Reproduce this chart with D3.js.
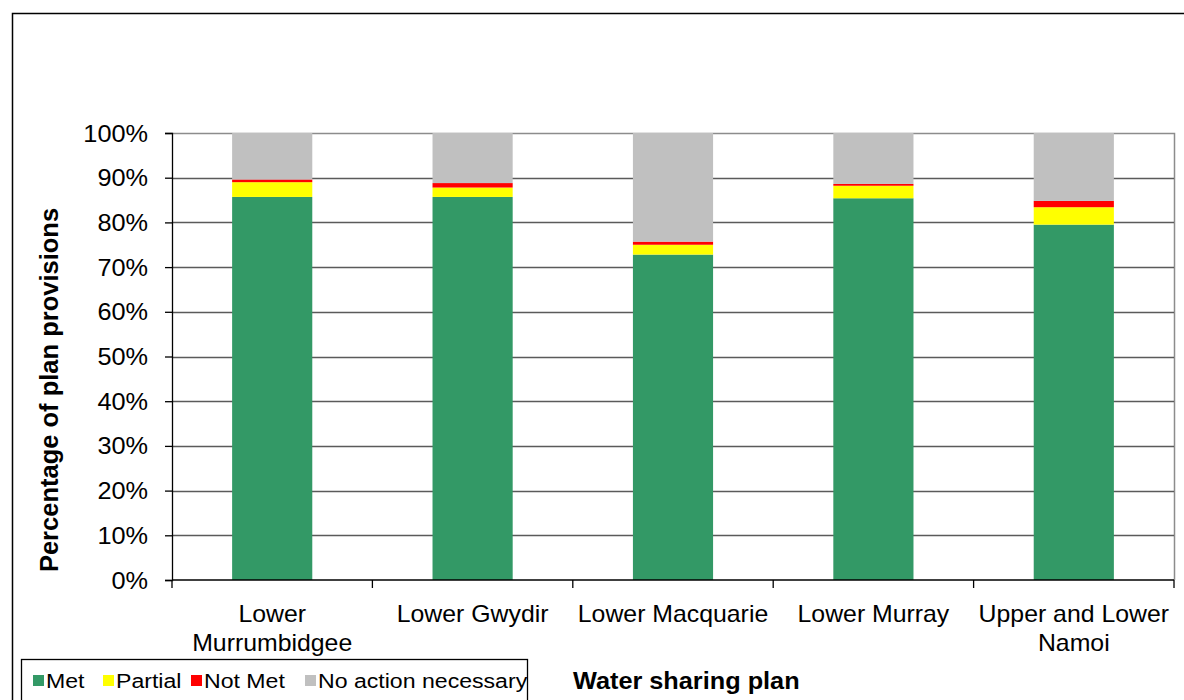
<!DOCTYPE html>
<html>
<head>
<meta charset="utf-8">
<script src="https://cdn.jsdelivr.net/npm/d3@7"></script>
<style>
  html, body { margin: 0; padding: 0; background: #fff; }
  svg { display: block; font-family: "Liberation Sans", Arial, sans-serif; }
</style>
</head>
<body>
<svg id="chart" width="1184" height="700"></svg>
<script>
// Water sharing plans and share of plan provisions by status (%)
const plans = ["Lower Murrumbidgee", "Lower Gwydir", "Lower Macquarie", "Lower Murray", "Upper and Lower Namoi"];
const planLines = [["Lower", "Murrumbidgee"], ["Lower Gwydir"], ["Lower Macquarie"], ["Lower Murray"], ["Upper and Lower", "Namoi"]];
const met = [85.7, 85.7, 72.8, 85.4, 79.5];
const partial = [3.3, 2.1, 2.2, 2.8, 3.9];
const notMet = [0.6, 1.0, 0.7, 0.4, 1.4];
const noAction = [10.4, 11.2, 24.3, 11.4, 15.2];
const seriesNames = ["Met", "Partial", "Not Met", "No action necessary"];
const seriesColors = ["#339966", "#ffff00", "#ff0000", "#c0c0c0"];
const yTicks = [0, 10, 20, 30, 40, 50, 60, 70, 80, 90, 100];

const svg = d3.select("#chart");
const plot = { left: 172, right: 1174, top: 133, bottom: 580 };
const FONT = "'Liberation Sans', Arial, sans-serif";

// outer chart border
svg.append("rect").attr("x", 12.5).attr("y", 13.5).attr("width", 1180).attr("height", 700)
  .attr("fill", "none").attr("stroke", "#000").attr("stroke-width", 1.5);

const x = d3.scaleBand().domain(plans).range([plot.left, plot.right]).paddingInner(0.6).paddingOuter(0.3);
const xBound = d3.scaleBand().domain(plans).range([plot.left, plot.right]);
const y = d3.scaleLinear().domain([0, 100]).range([plot.bottom, plot.top]);

// plot area right/top border (gray)
svg.append("path")
  .attr("d", `M${plot.left},${plot.top + 0.5}H${plot.right + 0.5}V${plot.bottom}`)
  .attr("fill", "none").attr("stroke", "#8c8c8c").attr("stroke-width", 1.5);

// gridlines
svg.append("g").selectAll("line").data(yTicks.filter(t => t > 0 && t < 100)).join("line")
  .attr("x1", plot.left).attr("x2", plot.right)
  .attr("y1", d => Math.round(y(d)) + 0.5).attr("y2", d => Math.round(y(d)) + 0.5)
  .attr("stroke", "#5a5a5a").attr("stroke-width", 1.3);

// stacked bars
const rows = plans.map((p, i) => ({ plan: p, Met: met[i], Partial: partial[i], "Not Met": notMet[i], "No action necessary": noAction[i] }));
const stack = d3.stack().keys(seriesNames)(rows);
svg.append("g").selectAll("g").data(stack).join("g")
  .attr("fill", (d, i) => seriesColors[i])
  .selectAll("rect").data(d => d).join("rect")
  .attr("x", d => x(d.data.plan))
  .attr("width", x.bandwidth())
  .attr("y", d => y(d[1]))
  .attr("height", d => y(d[0]) - y(d[1]));

// y axis
const yAxis = svg.append("g").attr("transform", `translate(${plot.left},0)`)
  .call(d3.axisLeft(y).tickValues(yTicks).tickFormat(d => d + "%").tickSize(7));
yAxis.select(".domain").attr("stroke", "#000").attr("stroke-width", 1.3);
yAxis.selectAll(".tick line").attr("stroke", "#000").attr("stroke-width", 1.3);
yAxis.selectAll("text")
  .attr("x", 0).attr("dy", "0.35em")
  .attr("transform", "translate(-24,0) scale(1.1,1)")
  .attr("font-size", 23).attr("fill", "#000").attr("font-family", FONT);

// x axis with ticks at category boundaries
const xAxisG = svg.append("g").attr("transform", `translate(0,${plot.bottom})`);
xAxisG.append("line").attr("x1", plot.left).attr("x2", plot.right)
  .attr("stroke", "#000").attr("stroke-width", 1.3);
const bounds = plans.map(p => xBound(p)).concat([plot.right]);
xAxisG.selectAll(".bt").data(bounds).join("line").attr("class", "bt")
  .attr("x1", d => d).attr("x2", d => d).attr("y1", 0).attr("y2", 8)
  .attr("stroke", "#000").attr("stroke-width", 1.3);
const labelData = [];
plans.forEach((p, i) => planLines[i].forEach((t, j) => labelData.push({ p, t, j })));
xAxisG.selectAll(".lab").data(labelData).join("text").attr("class", "lab")
  .attr("text-anchor", "middle").attr("font-size", 23).attr("fill", "#000")
  .attr("transform", d => `translate(${xBound(d.p) + xBound.bandwidth() / 2},${42 + d.j * 29}) scale(1.08,1)`)
  .text(d => d.t);

// axis titles
svg.append("text").attr("transform", "translate(58,390) rotate(-90)")
  .attr("text-anchor", "middle").attr("font-size", 25.5).attr("font-weight", "bold")
  .text("Percentage of plan provisions");
svg.append("text").attr("transform", "translate(573,689) scale(1.1,1)")
  .attr("font-size", 23).attr("font-weight", "bold")
  .text("Water sharing plan");

// legend
const legend = svg.append("g");
legend.append("rect").attr("x", 21.5).attr("y", 659.5).attr("width", 506).attr("height", 44)
  .attr("fill", "#fff").attr("stroke", "#000").attr("stroke-width", 1.3);
const legendX = [33, 103, 191, 305];
const items = legend.selectAll(".item").data(seriesNames).join("g").attr("class", "item")
  .attr("transform", (d, i) => `translate(${legendX[i]},0)`);
items.append("rect").attr("x", 0).attr("y", 675).attr("width", 11).attr("height", 11)
  .attr("fill", (d, i) => seriesColors[i]);
items.append("text").attr("transform", "translate(13,688) scale(1.1,1)")
  .attr("font-size", 21).attr("fill", "#000")
  .text(d => d);
</script>
</body>
</html>
